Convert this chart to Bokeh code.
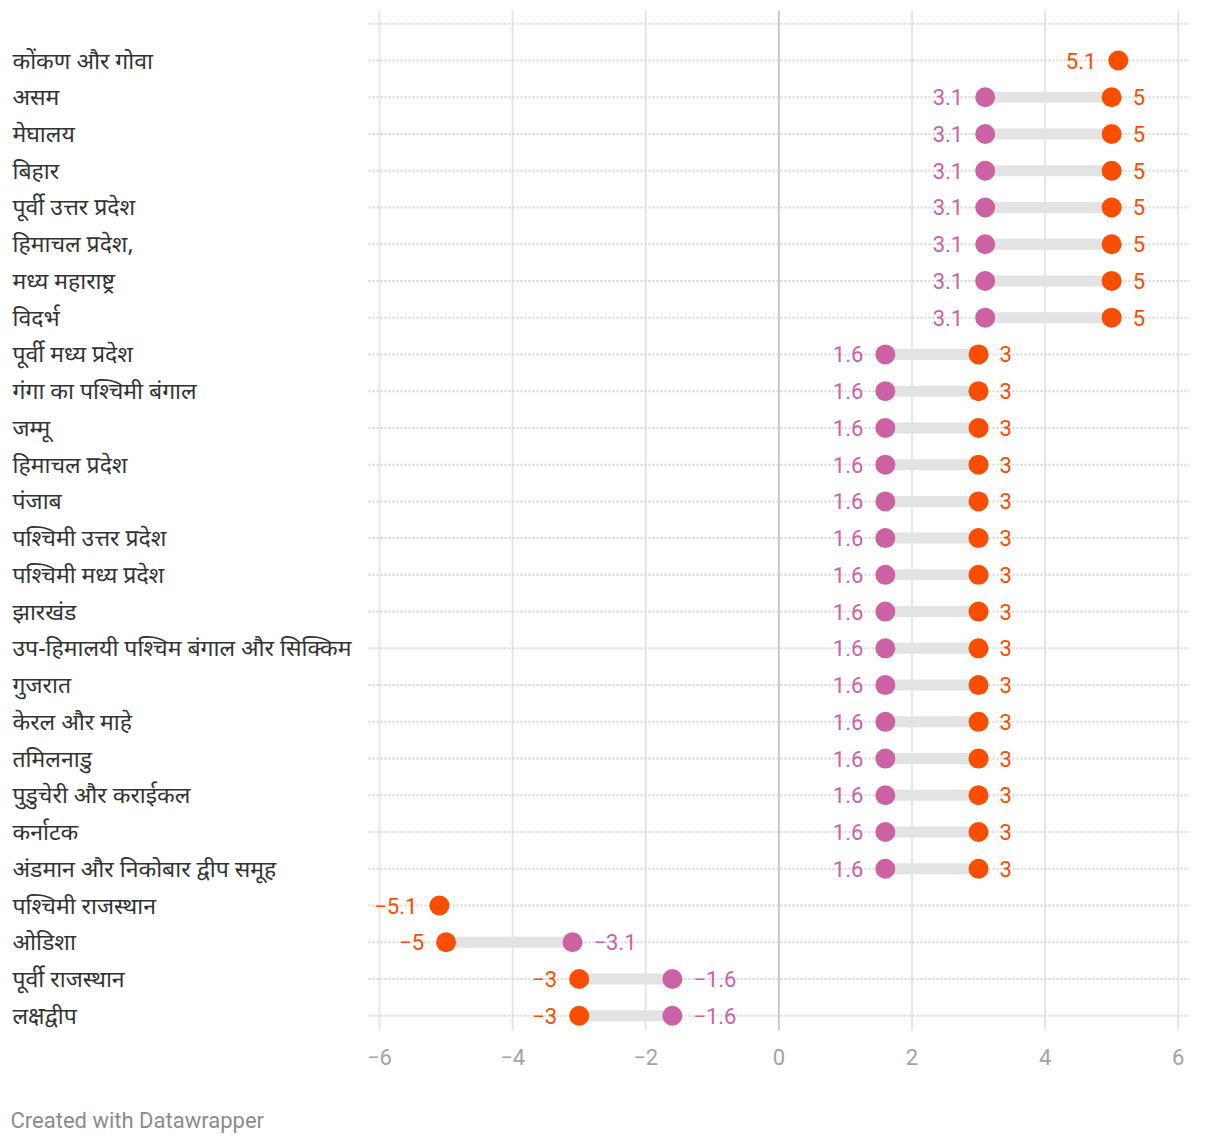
from bokeh.plotting import figure
from bokeh.layouts import column
from bokeh.models import Range1d, FixedTicker, ColumnDataSource
from bokeh.core.properties import value
from bokeh.embed import file_html
from bokeh.resources import INLINE

# ---------------- data ----------------
regions = [
    "कोंकण और गोवा",
    "असम",
    "मेघालय",
    "बिहार",
    "पूर्वी उत्तर प्रदेश",
    "हिमाचल प्रदेश,",
    "मध्य महाराष्ट्र",
    "विदर्भ",
    "पूर्वी मध्य प्रदेश",
    "गंगा का पश्चिमी बंगाल",
    "जम्मू",
    "हिमाचल प्रदेश",
    "पंजाब",
    "पश्चिमी उत्तर प्रदेश",
    "पश्चिमी मध्य प्रदेश",
    "झारखंड",
    "उप-हिमालयी पश्चिम बंगाल और सिक्किम",
    "गुजरात",
    "केरल और माहे",
    "तमिलनाडु",
    "पुडुचेरी और कराईकल",
    "कर्नाटक",
    "अंडमान और निकोबार द्वीप समूह",
    "पश्चिमी राजस्थान",
    "ओडिशा",
    "पूर्वी राजस्थान",
    "लक्षद्वीप",
]
series_orange = [5.1, 5, 5, 5, 5, 5, 5, 5,
                 3, 3, 3, 3, 3, 3, 3, 3, 3, 3, 3, 3, 3, 3, 3,
                 -5.1, -5, -3, -3]
series_pink = [None, 3.1, 3.1, 3.1, 3.1, 3.1, 3.1, 3.1,
               1.6, 1.6, 1.6, 1.6, 1.6, 1.6, 1.6, 1.6, 1.6, 1.6, 1.6, 1.6, 1.6, 1.6, 1.6,
               None, -3.1, -1.6, -1.6]
x_ticks = [-6, -4, -2, 0, 2, 4, 6]
tick_labels = ["\u22126", "\u22124", "\u22122", "0", "2", "4", "6"]
footer_text = "Created with Datawrapper"

# ---------------- style / layout ----------------
ORANGE = "#f94d00"
PINK = "#cc62a4"
BAR = "#e3e3e3"
W, H = 1220, 1144
H_MAIN = 1090
FRAME_BOTTOM = 1040
PX_MIN, PX_MAX = 379.0, 1177.7       # pixel of x=-6 and x=6
scale = (PX_MAX - PX_MIN) / (x_ticks[-1] - x_ticks[0])
ROW0, ROW_STEP = 60.0, 36.74         # pixel of first row, spacing

x_start = x_ticks[0] - PX_MIN / scale
x_end = x_ticks[-1] + (W - PX_MAX) / scale
n = len(regions)
y_top = -ROW0 / ROW_STEP
y_bottom = (FRAME_BOTTOM - ROW0) / ROW_STEP

def fmt(v):
    return ("%g" % v).replace("-", "\u2212")

p = figure(width=W, height=H_MAIN, output_backend="svg", toolbar_location=None,
           x_range=Range1d(x_start, x_end), y_range=Range1d(y_bottom, y_top),
           x_axis_location="below", y_axis_location=None,
           min_border_left=0, min_border_right=0, min_border_top=0,
           min_border_bottom=H_MAIN - FRAME_BOTTOM)
p.outline_line_color = None
p.xgrid.visible = False
p.ygrid.visible = False
p.background_fill_color = "white"
p.border_fill_color = "white"

# vertical grid lines
g_y0 = (10 - ROW0) / ROW_STEP
g_y1 = (1030 - ROW0) / ROW_STEP
grid_src = ColumnDataSource(dict(
    x=x_ticks, y0=[g_y0] * len(x_ticks), y1=[g_y1] * len(x_ticks),
    c=["#c8c8c8" if t == 0 else "#e6e6e6" for t in x_ticks]))
p.segment(x0="x", x1="x", y0="y0", y1="y1", line_color="c", line_width=2, source=grid_src)

# dotted row lines (including one above the first row)
d_x0 = (368 - PX_MIN) / scale + x_ticks[0]
d_x1 = (1189 - PX_MIN) / scale + x_ticks[0]
rows_dotted = list(range(-1, n))
p.segment(x0=[d_x0] * len(rows_dotted), x1=[d_x1] * len(rows_dotted),
          y0=rows_dotted, y1=rows_dotted, line_color="#d8d8d8", line_width=2,
          line_dash="2 2")

# connecting bars
bx0, bx1, by = [], [], []
for i, (o, pk) in enumerate(zip(series_orange, series_pink)):
    if o is not None and pk is not None:
        bx0.append(pk); bx1.append(o); by.append(i)
p.segment(x0=bx0, x1=bx1, y0=by, y1=by, line_color=BAR, line_width=11, line_cap="butt")

# dots
pk_x = [v for v in series_pink if v is not None]
pk_y = [i for i, v in enumerate(series_pink) if v is not None]
p.scatter(x=pk_x, y=pk_y, size=20, fill_color=PINK, line_color=None)
p.scatter(x=series_orange, y=list(range(n)), size=20, fill_color=ORANGE, line_color=None)

# value labels
lx, ly, lt, lc = [], [], [], []
rx, ry, rt, rc = [], [], [], []
for i, (o, pk) in enumerate(zip(series_orange, series_pink)):
    if pk is None:
        lx.append(o); ly.append(i); lt.append(fmt(o)); lc.append(ORANGE)
        continue
    (lo, lo_c), (hi, hi_c) = sorted([(o, ORANGE), (pk, PINK)], key=lambda t: t[0])
    lx.append(lo); ly.append(i); lt.append(fmt(lo)); lc.append(lo_c)
    rx.append(hi); ry.append(i); rt.append(fmt(hi)); rc.append(hi_c)

p.text(x="x", y="y", text="t", text_color="c",
       source=ColumnDataSource(dict(x=lx, y=ly, t=lt, c=lc)),
       text_align="right", text_baseline="middle", x_offset=-22,
       text_font=value("Roboto"), text_font_size="22px")
p.text(x="x", y="y", text="t", text_color="c",
       source=ColumnDataSource(dict(x=rx, y=ry, t=rt, c=rc)),
       text_align="left", text_baseline="middle", x_offset=21,
       text_font=value("Roboto"), text_font_size="22px")

# category labels
lab_x = x_start + 12 / scale
p.text(x=[lab_x] * n, y=list(range(n)), text=regions,
       text_align="left", text_baseline="middle", text_color="#333333",
       text_font=value("Noto Sans"), text_font_size="23px", y_offset=-1)

# axis
ax = p.xaxis[0]
ax.ticker = FixedTicker(ticks=x_ticks)
ax.major_label_overrides = {t: lab for t, lab in zip(x_ticks, tick_labels)}
ax.axis_line_color = None
ax.major_tick_line_color = None
ax.minor_tick_line_color = None
ax.major_label_standoff = 2
ax.major_label_text_font = "Roboto"
ax.major_label_text_font_size = "22px"
ax.major_label_text_color = "#a3a3a3"

# footer strip
H_FOOT = H - H_MAIN
f = figure(width=W, height=H_FOOT, output_backend="svg", toolbar_location=None,
           x_range=Range1d(0, W), y_range=Range1d(H_FOOT, 0),
           x_axis_location=None, y_axis_location=None,
           min_border=0)
f.outline_line_color = None
f.xgrid.visible = False
f.ygrid.visible = False
f.text(x=[10], y=[1120 - H_MAIN], text=[footer_text],
       text_align="left", text_baseline="middle", text_color="#8c8c8c",
       text_font=value("Roboto"), text_font_size="22px")

layout = column(p, f, spacing=0)
open("out.html", "w").write(file_html(layout, INLINE))
